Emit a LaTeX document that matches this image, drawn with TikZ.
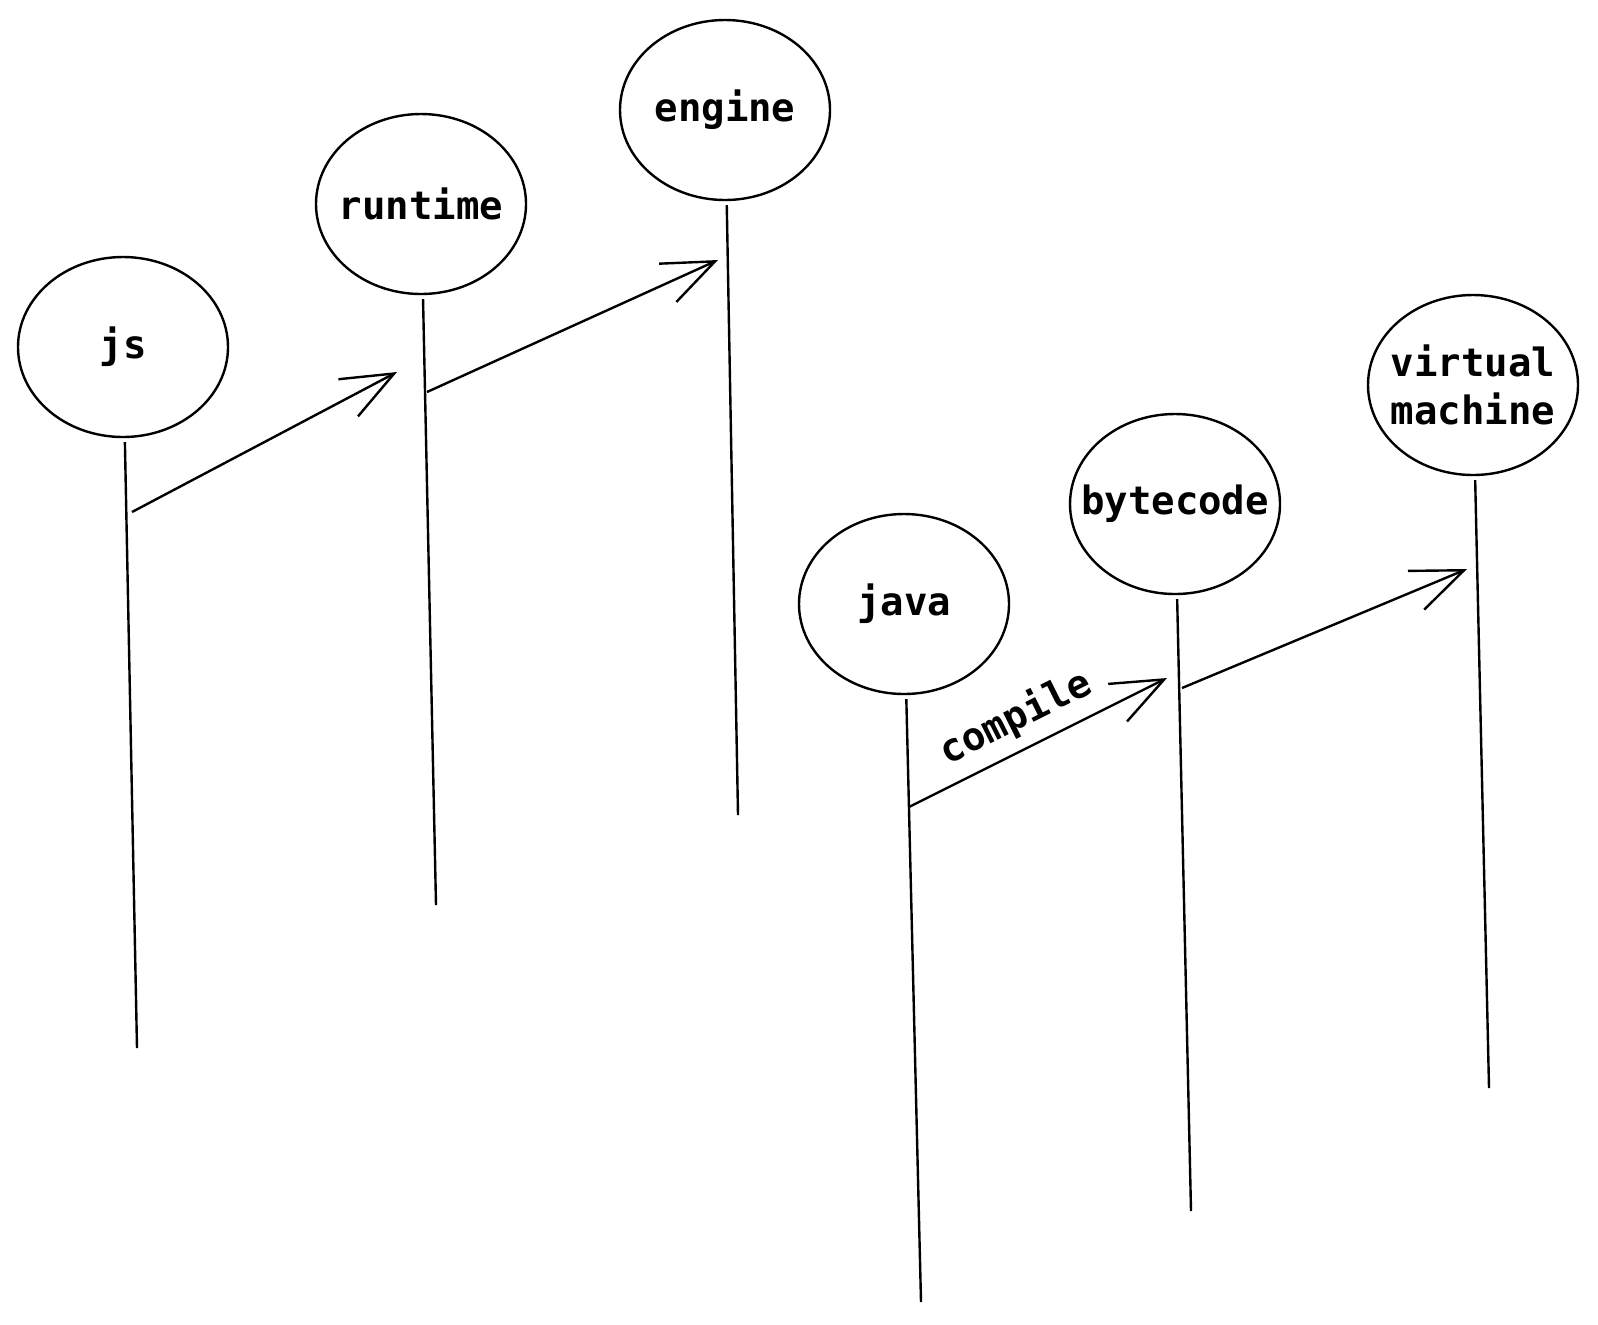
\documentclass[tikz,border=0pt]{standalone}
\usepackage{fontspec}
\setmonofont{DejaVu Sans Mono}
\usetikzlibrary{shapes.geometric,positioning,arrows.meta,calc}
\tikzset{
    actor/.style={
        ellipse,draw,line width=1.2pt,minimum width=105pt,minimum height=90pt,
        inner xsep=-10pt,inner ysep=0pt,
        align=center,font=\ttfamily\bfseries\fontsize{19.5}{24}\selectfont
    },
    lifeline/.style={
        line width=1.2pt,shorten <=2pt
    },
    msg/.style={
        line width=1.2pt,-{Straight Barb[length=26pt,width=21pt,line width=1.2pt]}
    }
}

\begin{document}
\begin{tikzpicture}[x=0.5pt, y=-0.5pt]
\useasboundingbox (0,0) rectangle (1598,1324);
\node[actor] (n1) at (123,347) {js};
\node[actor] (n2) at (421,204) {runtime};
\node[actor] (n3) at (725,110) {engine};
\node[actor] (n4) at (904,604) {java};
\node[actor] (n5) at (1175,504) {bytecode};
\node[actor] (n6) at (1473,385) {virtual\\machine};

\coordinate (n1end) at (137,1048);
\coordinate (n2end) at (436,905);
\coordinate (n3end) at (738,815);
\coordinate (n4end) at (921,1302);
\coordinate (n5end) at (1191,1211);
\coordinate (n6end) at (1489,1088);

\draw[lifeline] (n1) -- (n1end);
\draw[lifeline] (n2) -- (n2end);
\draw[lifeline] (n3) -- (n3end);
\draw[lifeline] (n4) -- (n4end);
\draw[lifeline] (n5) -- (n5end);
\draw[lifeline] (n6) -- (n6end);

\coordinate (m1a) at (132,512);
\coordinate (m1b) at (397,372);
\coordinate (m2a) at (427,392);
\coordinate (m2b) at (718,260);
\coordinate (m3a) at (909,807);
\coordinate (m3b) at (1167,678);
\coordinate (m4a) at (1182,688);
\coordinate (m4b) at (1467,569);

\draw[msg] (m1a) -- (m1b);
\draw[msg] (m2a) -- (m2b);
\draw[msg] (m3a) -- node[pos=0.47,sloped,above=2pt,font=\ttfamily\bfseries\fontsize{19.5}{24}\selectfont] (lbl) {compile} (m3b);
\draw[msg] (m4a) -- (m4b);
\end{tikzpicture}
\end{document}
